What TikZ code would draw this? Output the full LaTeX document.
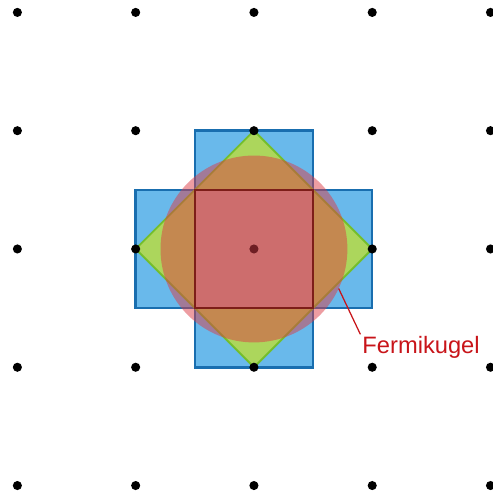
\documentclass[tikz,border=0pt]{standalone}
\usepackage{fontspec}
\newfontfamily\labelfont{Liberation Sans}
\definecolor{zoneblue}{RGB}{105,185,235}
\definecolor{zoneblueedge}{RGB}{25,110,175}
\definecolor{zonegreen}{RGB}{172,214,92}
\definecolor{zonegreenedge}{RGB}{115,190,45}
\definecolor{fermired}{RGB}{220,60,70}
\definecolor{cellfill}{RGB}{190,160,150}
\definecolor{celledge}{RGB}{125,30,25}
\definecolor{labelred}{RGB}{200,20,25}

\begin{document}
\begin{tikzpicture}[
        lattice/.style={
            circle,
            fill=black,
            inner sep=0pt,
            minimum size=0.077cm
        },
        zonecross/.style={
            fill=zoneblue,
            draw=zoneblueedge,
            line width=0.6pt
        },
        zonediamond/.style={
            fill=zonegreen,
            draw=zonegreenedge,
            line width=0.45pt,
            line join=miter
        },
        fermisea/.style={
            circle,
            fill=fermired,
            fill opacity=0.5,
            inner sep=0pt,
            outer sep=0pt,
            minimum size=1.58cm
        },
        cellbox/.style={
            draw=celledge,
            line width=0.6pt
        },
        fermilabel/.style={
            font=\labelfont\fontsize{5.7}{6.8}\selectfont,
            text=labelred,
            inner sep=0.3pt
        },
        pointer/.style={draw=labelred, line width=0.3pt}
    ]

        \useasboundingbox (-2.147,-2.08) rectangle (2.020,2.105);

        % Second zone (cross) and diamond
        \draw[zonecross] (-0.5,1) -- (0.5,1) -- (0.5,0.5) -- (1,0.5) -- (1,-0.5) -- (0.5,-0.5)
            -- (0.5,-1) -- (-0.5,-1) -- (-0.5,-0.5) -- (-1,-0.5) -- (-1,0.5) -- (-0.5,0.5) -- cycle;
        \draw[zonediamond] (0,1) -- (1,0) -- (0,-1) -- (-1,0) -- cycle;
        \fill[cellfill] (-0.5,-0.5) rectangle (0.5,0.5);

        % Reciprocal lattice points
        \foreach \i in {-2,...,2}
            \foreach \j in {-2,...,2}
                \node[lattice] (g\i\j) at (\i,\j) {};

        % Fermi circle and first zone
        \node[fermisea] (fs) at (0,0) {};
        \draw[cellbox] (-0.5,-0.5) rectangle (0.5,0.5);

        % Label
        \node[fermilabel, anchor=north west] (fslabel) at (0.90,-0.722) {Fermikugel};
        \draw[pointer] (fs.-25.5) -- (fslabel.north west);

    \end{tikzpicture}
\end{document}
